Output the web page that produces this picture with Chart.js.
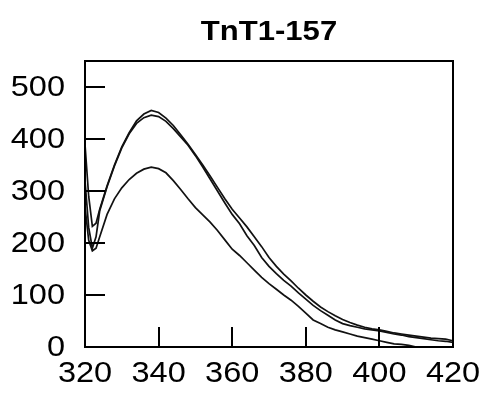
<!DOCTYPE html>
<html>
<head>
<meta charset="utf-8">
<script src="https://cdn.jsdelivr.net/npm/chart.js@4"></script>
<style>
html,body{margin:0;padding:0;background:#fff;}
canvas{display:block;}
</style>
</head>
<body>
<canvas id="c" width="488" height="395"></canvas>
<script>
const chartTitle = 'TnT1-157';
const wavelengths = [320,321,322,323,324,326,328,330,332,334,336,338,340,342,344,346,348,350,352,354,356,358,360,362,364,366,368,370,372,374,376,378,380,382,384,386,388,390,392,394,396,398,400,402,404,406,408,410,412,414,416,418,420];
const seriesA = [390,290,232,238,265,310,350,385,412,435,448,455,451,440,426,408,390,370,350,329,307,285,265,248,231,212,193,172,155,140,127,113,100,88,77,68,60,53,47,42,38,35,33,30,27,25,23,21,19,17,16,15,12];
const seriesB = [320,230,190,212,262,308,348,383,410,430,441,446,443,434,420,404,388,368,346,323,300,277,255,237,214,195,172,155,141,128,117,104,92,80,70,61,52,45,41,38,35,33,31,28,25,23,20,18,16,14,12,11,9];
const seriesC = [270,205,185,190,212,255,285,306,322,334,342,346,343,335,320,303,285,268,254,240,224,206,188,176,162,148,134,122,111,100,90,78,65,52,45,38,33,29,25,21,18,15,12,9,6,5,3,0,0,0,0,0,0];
const xTickValues = [320,340,360,380,400,420];
const yTickValues = [0,100,200,300,400,500];

const toPoints = ys => wavelengths.map((w,i)=>({x:w,y:ys[i]}));
const family = "'Liberation Sans', Arial, Helvetica, sans-serif";
const stretch = 1.12;

function stretchedText(ctx, text, x, y, align, baseline, sx){
  ctx.save();
  ctx.translate(x, y);
  ctx.scale(sx, 1);
  ctx.textAlign = align;
  ctx.textBaseline = baseline;
  ctx.fillText(text, 0, 0);
  ctx.restore();
}

const framePlugin = {
  id:'frame',
  afterDatasetsDraw(chart){
    const {ctx, chartArea:a, scales:{x,y}} = chart;
    ctx.save();
    ctx.strokeStyle = '#000';
    ctx.lineWidth = 2;
    ctx.strokeRect(a.left, a.top, a.right-a.left, a.bottom-a.top);
    ctx.beginPath();
    y.ticks.forEach(t=>{ const py = Math.round(y.getPixelForValue(t.value)); ctx.moveTo(a.left, py); ctx.lineTo(a.left+20, py); });
    x.ticks.forEach(t=>{ const px = Math.round(x.getPixelForValue(t.value)); ctx.moveTo(px, a.bottom); ctx.lineTo(px, a.bottom-20); });
    ctx.stroke();
    ctx.fillStyle = '#000';
    ctx.font = '29px ' + family;
    y.ticks.forEach(t=>{
      stretchedText(ctx, String(t.value), a.left-20, y.getPixelForValue(t.value)+1, 'right', 'middle', stretch);
    });
    x.ticks.forEach(t=>{
      stretchedText(ctx, String(t.value), x.getPixelForValue(t.value), 382, 'center', 'alphabetic', stretch);
    });
    ctx.font = 'bold 27px ' + family;
    stretchedText(ctx, chartTitle, (a.left + a.right)/2, 40, 'center', 'alphabetic', 1.15);
    ctx.restore();
  }
};

const lineStyle = {borderColor:'#111', borderWidth:1.7, pointRadius:0, tension:0, fill:false};

new Chart(document.getElementById('c'), {
  type:'line',
  data:{
    datasets:[
      Object.assign({label:'A', data:toPoints(seriesA)}, lineStyle),
      Object.assign({label:'B', data:toPoints(seriesB)}, lineStyle),
      Object.assign({label:'C', data:toPoints(seriesC)}, lineStyle)
    ]
  },
  options:{
    responsive:false,
    animation:false,
    devicePixelRatio:1,
    layout:{padding:{left:0,right:35,top:61,bottom:0}},
    plugins:{
      legend:{display:false},
      tooltip:{enabled:false},
      title:{display:false}
    },
    scales:{
      x:{type:'linear', min:320, max:420,
        afterBuildTicks(s){ s.ticks = xTickValues.map(v=>({value:v})); },
        afterFit(s){ s.height = 48; },
        grid:{display:false, drawTicks:false}, border:{display:false},
        ticks:{display:false}
      },
      y:{type:'linear', min:0, max:550,
        afterBuildTicks(s){ s.ticks = yTickValues.map(v=>({value:v})); },
        afterFit(s){ s.width = 85; },
        grid:{display:false, drawTicks:false}, border:{display:false},
        ticks:{display:false}
      }
    }
  },
  plugins:[framePlugin]
});
</script>
</body>
</html>
